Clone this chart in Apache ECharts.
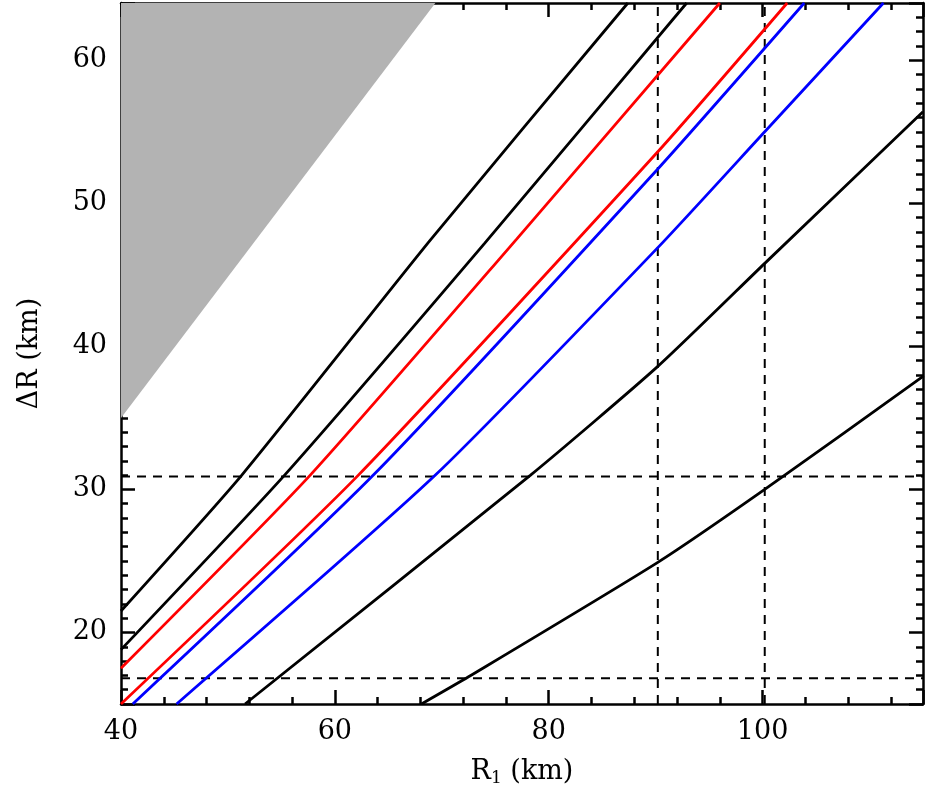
<!DOCTYPE html>
<html>
<head>
<meta charset="utf-8">
<script src="https://cdn.jsdelivr.net/npm/echarts@6/dist/echarts.min.js"></script>
<style>html,body{margin:0;padding:0;background:#fff}#chart{width:925px;height:808px}</style>
</head>
<body>
<div id="chart"></div>
<script>
// curves, [R1, dR]
var black1 = [[40,21.5],[51.3,31],[69,47.5],[87.4,64]];
var black2 = [[40,18.8],[55.3,31],[74,47.2],[92.9,64]];
var red1 = [[40,17.5],[57.7,31],[77,47.5],[96,64]];
var red2 = [[40,15],[62.2,31],[90.2,53.6],[102.3,64]];
var blue1 = [[41.1,15],[63.6,31],[90.2,52.4],[103.9,64]];
var blue2 = [[45.2,15],[69.4,31],[90.2,46.9],[100.2,55],[111.3,64]];
var black3 = [[51.6,15],[78.3,31],[90.2,38.6],[100.2,45.8],[115,56.4]];
var black4 = [[68.1,15],[72.5,16.9],[90.2,24.9],[100.2,30],[115,37.9]];
var shaded = [[40,35],[69.4,64]];
var dashX = [90.2, 100.2];
var dashY = [30.9, 16.8];

var chart = echarts.init(document.getElementById('chart'));
var serif = 'DejaVu Serif';

function curve(d, c) {
    return {type: 'line', data: d, smooth: 0.2, showSymbol: false, silent: true,
        lineStyle: {color: c, width: 2.8}, z: 3};
}

var series = [
    {type: 'line', data: shaded, showSymbol: false, silent: true,
        lineStyle: {width: 0}, areaStyle: {color: '#b3b3b3', opacity: 1, origin: 'end'}, z: 1}
];
dashX.forEach(function (x) {
    series.push({type: 'line', data: [[x,15],[x,64]], showSymbol: false, silent: true,
        lineStyle: {color: '#000', width: 2, type: [9, 7]}, z: 2});
});
dashY.forEach(function (y) {
    series.push({type: 'line', data: [[40,y],[115,y]], showSymbol: false, silent: true,
        lineStyle: {color: '#000', width: 2, type: [9, 7]}, z: 2});
});
series.push(curve(black1,'#000'), curve(black2,'#000'), curve(red1,'#ff0000'), curve(red2,'#ff0000'),
    curve(blue1,'#0000ff'), curve(blue2,'#0000ff'), curve(black3,'#000'), curve(black4,'#000'));

function axis(pos, show, extra) {
    var vert = pos === 'left' || pos === 'right';
    var a = {
        type: 'value', position: pos, splitNumber: vert ? 5 : 4,
        axisLine: {show: true, onZero: false, lineStyle: {color: '#000', width: 2.5}},
        axisTick: {show: true, inside: true, length: 14, lineStyle: {color: '#000', width: 2.5}},
        minorTick: {show: true, splitNumber: vert ? 10 : 5, length: 7, lineStyle: {color: '#000', width: 2.5}},
        splitLine: {show: false},
        axisLabel: {show: show, fontFamily: serif, fontSize: 27, color: '#000', margin: 14,
            showMinLabel: pos === 'bottom', showMaxLabel: false}
    };
    for (var k in extra) a[k] = extra[k];
    return a;
}

var option = {
    animation: false,
    grid: {left: 121, right: 2, top: 3, bottom: 104},
    xAxis: [
        axis('bottom', true, {min: 40, max: 115, name: '{a|R}{s|1}{a| (km)}', nameLocation: 'middle', nameGap: 52,
            nameTextStyle: {rich: {a: {fontFamily: serif, fontSize: 27, color: '#000'},
                s: {fontFamily: serif, fontSize: 17, color: '#000', padding: [14, 0, 0, 0]}}}}),
        axis('top', false, {min: 40, max: 115})
    ],
    yAxis: [
        axis('left', true, {min: 15, max: 64, name: 'ΔR (km)', nameLocation: 'middle', nameGap: 78,
            nameTextStyle: {fontFamily: serif, fontSize: 27, color: '#000'}}),
        axis('right', false, {min: 15, max: 64})
    ],
    series: series
};
chart.setOption(option);
</script>
</body>
</html>
